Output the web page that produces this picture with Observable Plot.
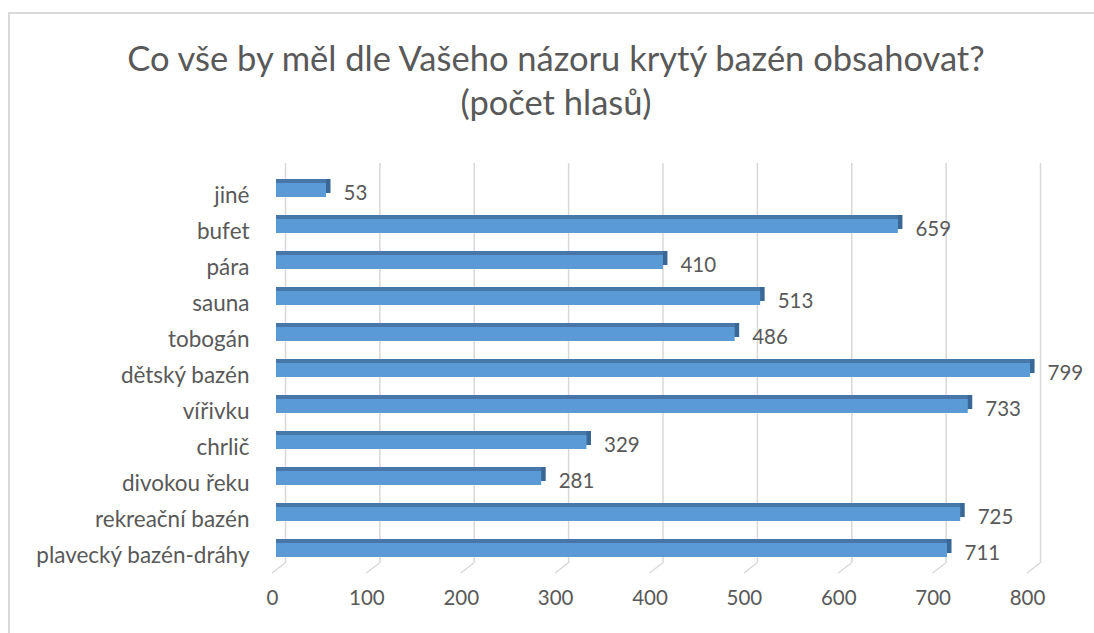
<!DOCTYPE html>
<html>
<head>
<meta charset="utf-8">
<script src="https://cdn.jsdelivr.net/npm/d3@7"></script>
<script src="https://cdn.jsdelivr.net/npm/@observablehq/plot@0.6"></script>
<style>
  html, body { margin: 0; padding: 0; background: #fff; }
  #wrap { position: relative; width: 1094px; height: 633px; overflow: hidden; font-family: Lato, "Open Sans", sans-serif; }
  #frame { position: absolute; left: 8px; top: 12px; width: 1200px; height: 800px; border-top: 2px solid #d9d9d9; border-left: 2px solid #d9d9d9; }
  #title { position: relative; height: 140px; box-sizing: border-box; padding-top: 36px; text-align: center; color: #595959; font-size: 34.5px; line-height: 44px; padding-left: 18px; }
  #chart { position: relative; }
  #chart svg { display: block; }
</style>
</head>
<body>
<div id="wrap">
  <div id="frame"></div>
  <div id="title">Co vše by měl dle Vašeho názoru krytý bazén obsahovat?<br>(počet hlasů)</div>
  <div id="chart"></div>
</div>
<script>
const categories = ["jiné", "bufet", "pára", "sauna", "tobogán", "dětský bazén", "vířivku", "chrlič", "divokou řeku", "rekreační bazén", "plavecký bazén-dráhy"];
const votes = [53, 659, 410, 513, 486, 799, 733, 329, 281, 725, 711];
const xTicks = [0, 100, 200, 300, 400, 500, 600, 700, 800];

const data = categories.map((c, i) => ({category: c, votes: votes[i]}));

const W = 1094, H = 493;
const depthX = 9, floorTop = 423, floorBottom = 433;
const textColor = "#595959";

const floorMark = (index, scales) => {
  const g = d3.create("svg:g");
  for (const t of xTicks) {
    const px = scales.x(t);
    g.append("line")
      .attr("x1", px + depthX).attr("y1", floorTop)
      .attr("x2", px - 4).attr("y2", floorBottom)
      .attr("stroke", "#d9d9d9").attr("stroke-width", 1.5);
  }
  return g.node();
};

const chart = Plot.plot({
  width: W,
  height: H,
  marginLeft: 276,
  marginRight: 63,
  marginTop: 23,
  marginBottom: H - floorTop,
  style: {fontFamily: "Lato, 'Open Sans', sans-serif", background: "transparent"},
  x: {domain: [0, 800], axis: null},
  y: {domain: categories, range: [31.45, 428.55], padding: 0, axis: null},
  marks: [
    Plot.ruleX(xTicks, {x: d => d, dx: depthX, stroke: "#d9d9d9", strokeWidth: 1.5}),
    floorMark,
    Plot.barX(data, {x: "votes", y: "category", dx: 4.5, dy: -4, insetTop: 11, insetBottom: 11, fill: "#3a6896"}),
    Plot.barX(data, {x: "votes", y: "category", dy: -4, insetTop: 11, insetBottom: 11, fill: "#4677a8"}),
    Plot.barX(data, {x: "votes", y: "category", insetTop: 11, insetBottom: 11, fill: "#5b9bd5"}),
    Plot.text(data, {x: "votes", y: "category", text: d => String(d.votes), textAnchor: "start", dx: 17, dy: 3, fill: textColor, fontSize: 20.5}),
    Plot.text(categories, {y: d => d, frameAnchor: "left", textAnchor: "end", dx: -27, dy: 5, fill: textColor, fontSize: 22.5}),
    Plot.text(xTicks, {x: d => d, frameAnchor: "bottom", dy: 41, dx: -4, text: d => String(d), fill: textColor, fontSize: 20.5})
  ]
});
document.getElementById("chart").appendChild(chart);
</script>
</body>
</html>
